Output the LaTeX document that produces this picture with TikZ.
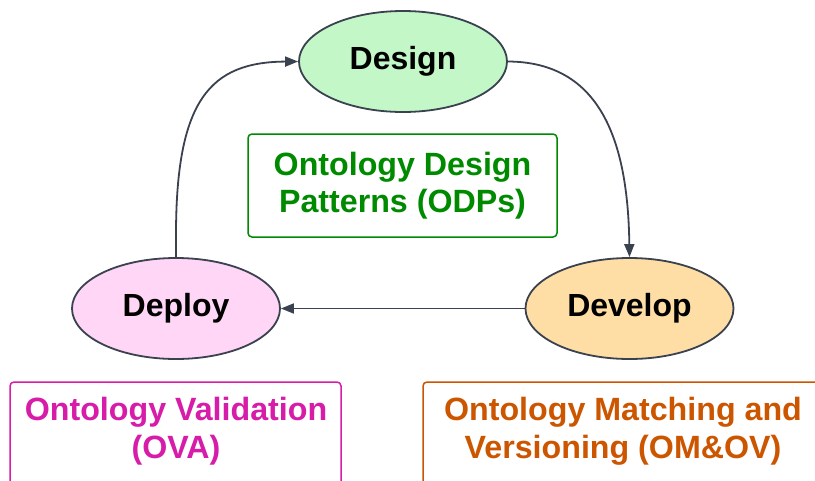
\documentclass[tikz,border=0pt]{standalone}
\usepackage{fontspec}
\setmainfont{Liberation Sans}
\usetikzlibrary{shapes.geometric,arrows.meta}
\definecolor{edgec}{RGB}{58,65,79}
\definecolor{odpc}{RGB}{0,138,0}
\definecolor{ovac}{RGB}{214,28,168}
\definecolor{omc}{RGB}{204,85,0}
\definecolor{designf}{RGB}{195,247,200}
\definecolor{deployf}{RGB}{255,214,245}
\definecolor{developf}{RGB}{255,222,166}
\tikzset{
  phase/.style={ellipse, draw=edgec, line width=1.8pt, inner sep=0pt,
    minimum width=208pt, minimum height=101pt,
    font=\fontsize{32}{38}\selectfont\bfseries, text=black},
  infobox/.style={rectangle, rounded corners=4pt, line width=1.5pt, fill=white},
  infotext/.style={align=center, inner sep=0pt, font=\fontsize{32.2}{37.5}\selectfont\bfseries},
  flow/.style={draw=edgec, line width=1.8pt, -{Triangle[length=13pt,width=10pt]}}
}
\begin{document}
\begin{tikzpicture}[x=1pt,y=-1pt]
\useasboundingbox (0,0) rectangle (815,480);
\clip (0,0) rectangle (815,480);
\fill[white] (0,0) rectangle (815,480);

% ellipses
\node[phase, fill=designf] (design) at (403,61.5) {Design};
\node[phase, fill=deployf] (deploy) at (176,308.5) {Deploy};
\node[phase, fill=developf] (develop) at (629.5,308.5) {Develop};

% centre box
\node[infobox, draw=odpc, text=odpc, minimum width=309pt, minimum height=103pt,
      align=center, inner sep=0pt, font=\fontsize{32.2}{37.5}\selectfont\bfseries]
      (odp) at (402.5,185.5) {Ontology Design\\Patterns (ODPs)};

% bottom boxes (cut off by the page edge)
\node[infobox, draw=ovac, minimum width=331pt, minimum height=130pt] (ovabox) at (175.5,447) {};
\node[infotext, text=ovac] (ovatext) at (176,431) {Ontology Validation\\(OVA)};
\node[infobox, draw=omc, minimum width=400pt, minimum height=130pt] (ombox) at (623,447) {};
\node[infotext, text=omc] (omtext) at (623,431) {Ontology Matching and\\Versioning (OM\&OV)};

% connectors
\draw[flow] (design.east) .. controls (600,62) and (628,140) .. (develop.north);
\coordinate (bend) at (176,235);
\draw[flow] (deploy.north) -- (bend) .. controls (176,100) and (210,62) .. (design.west);
\draw[flow] (develop.west) -- (deploy.east);
\end{tikzpicture}
\end{document}
